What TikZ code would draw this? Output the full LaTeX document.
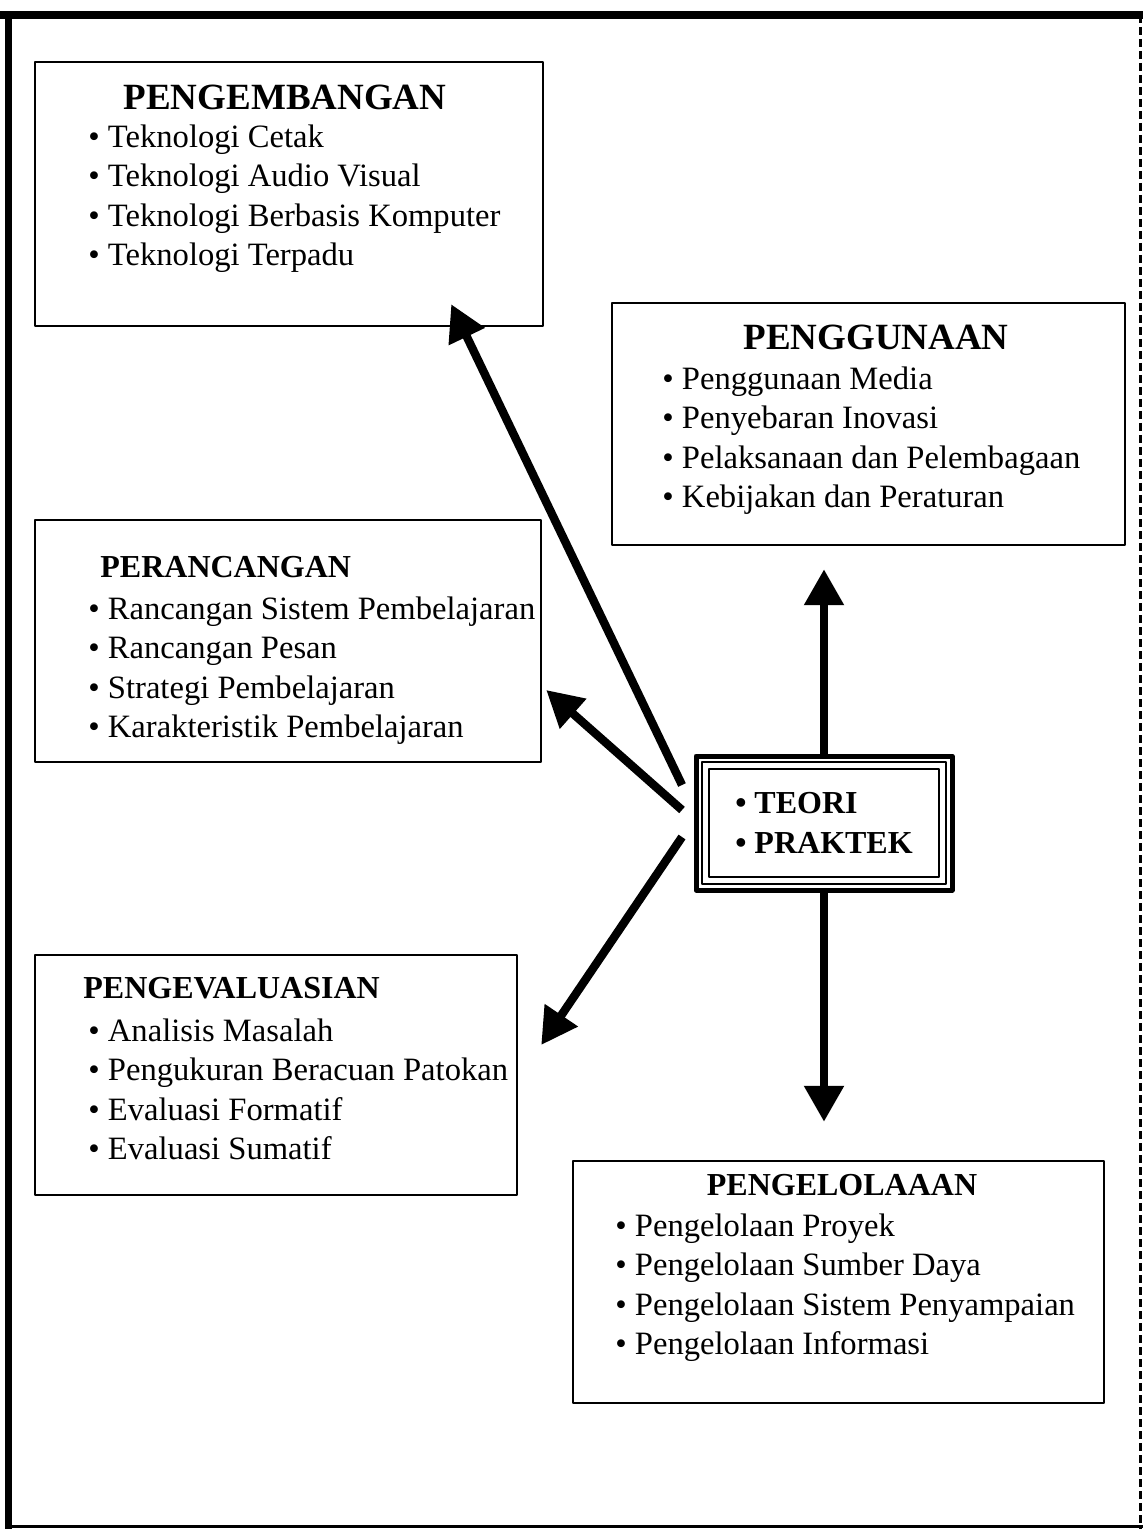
\documentclass[tikz,border=0pt]{standalone}
\usepackage{fontspec}
\setmainfont{Liberation Serif}
\usetikzlibrary{arrows.meta}
\tikzset{
  panel/.style={draw,line width=1.2pt,inner sep=0pt},
  bighead/.style={inner sep=0pt,font=\fontsize{18.5}{22}\selectfont\bfseries},
  head/.style={inner sep=0pt,font=\fontsize{16}{19}\selectfont\bfseries},
  itemlist/.style={inner sep=0pt,align=left,anchor=north west,font=\fontsize{16.3}{19.8}\selectfont},
  link/.style={->,line width=4.2pt,line cap=butt}
}
\begin{document}
\begin{tikzpicture}[line join=round,>={Triangle[length=18pt,width=19pt]},x=0.5pt,y=-0.5pt]
\useasboundingbox (0,0) rectangle (1143,1529);
% frame
\draw[line width=4pt] (0,15) -- (1143,15);
\draw[line width=3.5pt] (8,13) -- (8,1529);
\draw[line width=1.5pt] (5,1526) -- (1143,1526);
\draw[line width=1.5pt,dash pattern=on 4pt off 2pt] (1140,15) -- (1140,1529);
% boxes
\node[panel,minimum width=254pt,minimum height=132pt] (dev) at (289,194) {};
\node[panel,minimum width=256.5pt,minimum height=121pt] (use) at (868.5,424) {};
\node[panel,minimum width=253pt,minimum height=121pt] (des) at (288,641) {};
\node[panel,minimum width=241pt,minimum height=120pt] (eval) at (276,1075) {};
\node[panel,minimum width=265.5pt,minimum height=121pt] (mgmt) at (838.5,1282) {};
\node[bighead] (devhead) at (285,97) {PENGEMBANGAN};
\node[itemlist] (devlist) at (88,124) {\textbullet\ Teknologi Cetak\\\textbullet\ Teknologi Audio Visual\\\textbullet\ Teknologi Berbasis Komputer\\\textbullet\ Teknologi Terpadu};
\node[bighead] (usehead) at (876,337) {PENGGUNAAN};
\node[itemlist] (uselist) at (662,366) {\textbullet\ Penggunaan Media\\\textbullet\ Penyebaran Inovasi\\\textbullet\ Pelaksanaan dan Pelembagaan\\\textbullet\ Kebijakan dan Peraturan};
\node[head,anchor=west] (deshead) at (100,567) {PERANCANGAN};
\node[itemlist] (deslist) at (88,596) {\textbullet\ Rancangan Sistem Pembelajaran\\\textbullet\ Rancangan Pesan\\\textbullet\ Strategi Pembelajaran\\\textbullet\ Karakteristik Pembelajaran};
\node[head,anchor=west] (evalhead) at (83,988) {PENGEVALUASIAN};
\node[itemlist] (evallist) at (88,1018) {\textbullet\ Analisis Masalah\\\textbullet\ Pengukuran Beracuan Patokan\\\textbullet\ Evaluasi Formatif\\\textbullet\ Evaluasi Sumatif};
\node[head] (mgmthead) at (842,1185) {PENGELOLAAAN};
\node[itemlist] (mgmtlist) at (615,1213) {\textbullet\ Pengelolaan Proyek\\\textbullet\ Pengelolaan Sumber Daya\\\textbullet\ Pengelolaan Sistem Penyampaian\\\textbullet\ Pengelolaan Informasi};
% center
\node[draw,line width=1pt,minimum width=115pt,minimum height=54pt,align=left,font=\fontsize{16}{20}\selectfont\bfseries] (core) at (824,823) {\textbullet\ TEORI\\\textbullet\ PRAKTEK};
\draw[line width=0.6pt] ([shift={(-6,-6)}]core.north west) rectangle ([shift={(6,6)}]core.south east);
\draw[line width=2.5pt] ([shift={(-12,-12)}]core.north west) rectangle ([shift={(12,12)}]core.south east);
% arrows
\draw[link,shorten >=11.5pt] ([shift={(0,-14)}]core.north) -- (core.north |- use.south);
\draw[link,shorten >=19pt] ([shift={(0,14)}]core.south) -- (core.south |- mgmt.north);
\draw[link] ([shift={(-26,-38)}]core.west) -- ([shift={(-93,-23)}]dev.south east);
\draw[link] ([shift={(-26,-13)}]core.west) -- ([shift={(4,49)}]des.east);
\draw[link] ([shift={(-26,14)}]core.west) -- ([shift={(23,-30)}]eval.east);
\end{tikzpicture}
\end{document}
